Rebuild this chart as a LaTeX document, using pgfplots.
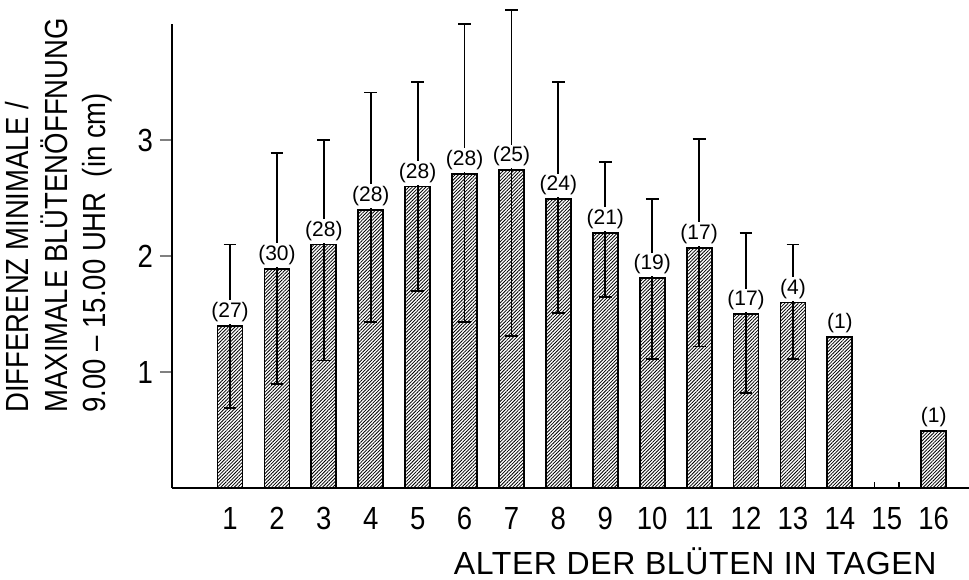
\documentclass[border=0pt]{standalone}
\usepackage{pgfplots}
\pgfplotsset{compat=1.18}
\usepackage{pgfplotstable}
\usetikzlibrary{patterns.meta}
\usepackage{fontspec}
\setmainfont{Liberation Sans}
\newfontfamily\narrowfont[FakeStretch=0.86]{Liberation Sans}

\pgfplotstableread{
x  y     ep    em    lab
1  1.40  0.70  0.71  (27)
2  1.89  1.00  0.99  (30)
3  2.10  0.90  1.00  (28)
4  2.40  1.01  0.97  (28)
5  2.60  0.90  0.90  (28)
6  2.71  1.29  1.28  (28)
7  2.74  1.38  1.43  (25)
8  2.49  1.01  0.98  (24)
9  2.20  0.61  0.55  (21)
10 1.81  0.68  0.70  (19)
11 2.07  0.94  0.85  (17)
12 1.50  0.70  0.68  (17)
13 1.60  0.50  0.49  (4)
}\witherr
\pgfplotstableread{
x  y     lab
14 1.30  (1)
16 0.49  (1)
}\noerr
\pgfplotstableread{
x      y
14.74  0.05
15.26  0.05
}\stubs

\begin{document}
\begin{tikzpicture}
\begin{axis}[
  scale only axis,
  width=398.5pt, height=232pt,
  xmin=-0.237, xmax=16.753,
  ymin=0, ymax=4,
  clip=false,
  axis lines=left,
  axis line style={-, line width=1pt},
  xtick={1,...,16},
  ytick={1,2,3},
  xtick style={draw=none},
  ytick style={line width=1pt},
  tick align=outside,
  major tick length=6pt,
  /pgf/number format/assume math mode=true,
  ticklabel style={font=\narrowfont\fontsize{16}{16}\selectfont},
  ybar, bar width=12.5pt, bar shift=0pt,
  every node near coord/.style={font=\fontsize{10.5}{10.5}\selectfont, fill=white, inner sep=1pt, anchor=south, yshift=0.5pt},
]
\addplot[draw=black, line width=0.9pt,
  pattern={Lines[angle=45, distance=1.2pt, line width=0.4pt]},
  nodes near coords, point meta=explicit symbolic,
  error bars/.cd, y dir=both, y explicit,
  error bar style={line width=0.9pt},
  error mark options={rotate=90, mark size=3.2pt, line width=0.9pt}]
  table[x=x, y=y, y error plus=ep, y error minus=em, meta=lab] {\witherr};
\addplot[draw=black, line width=0.9pt,
  pattern={Lines[angle=45, distance=1.2pt, line width=0.4pt]},
  nodes near coords, point meta=explicit symbolic]
  table[x=x, y=y, meta=lab] {\noerr};
\addplot[ycomb, no marks, black, line width=0.9pt]
  table[x=x, y=y] {\stubs};
\end{axis}
\node[rotate=90, anchor=south west, align=left, inner sep=0,
  font=\narrowfont\fontsize{16}{19.25}\selectfont] at (-29.5pt,37.5pt)
  {DIFFERENZ MINIMALE /\\MAXIMALE BLÜTENÖFFNUNG\\9.00 – 15.00 UHR\ \ (in cm)};
\node[anchor=base east, inner sep=0, font=\addfontfeature{LetterSpace=2}\fontsize{16}{16}\selectfont]
  at (382.5pt,-43pt) {ALTER DER BLÜTEN IN TAGEN};
\pgfresetboundingbox
\path[use as bounding box] (-86pt,-45.5pt) rectangle (398.5pt,244pt);
\end{tikzpicture}
\end{document}
